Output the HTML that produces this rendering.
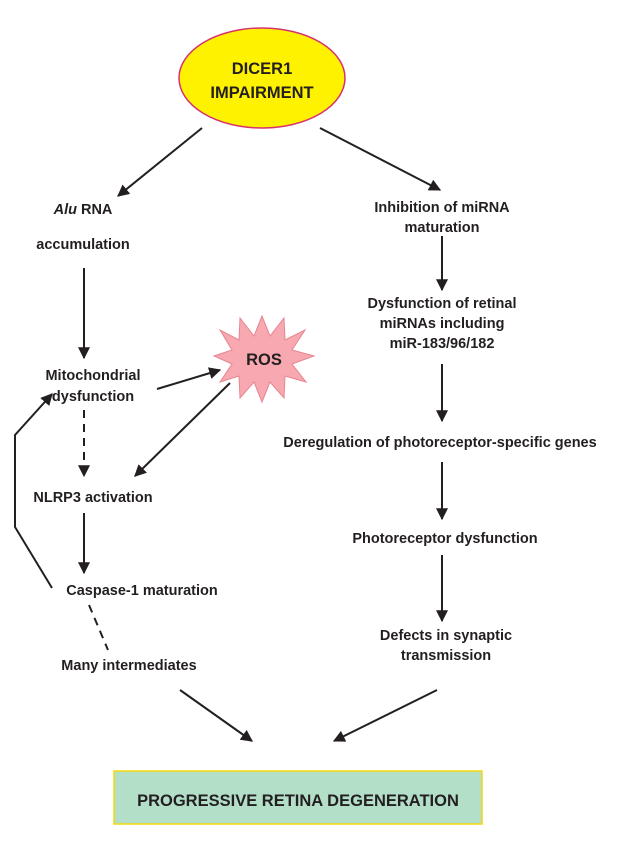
<!DOCTYPE html>
<html><head><meta charset="utf-8"><style>
body{margin:0;background:#fff;}
svg text{font-family:"Liberation Sans",Arial,sans-serif;font-weight:bold;font-size:14.5px;fill:#231f20;text-anchor:middle;}
</style></head><body>
<svg width="640" height="840" viewBox="0 0 640 840" xmlns="http://www.w3.org/2000/svg">
<defs>
<marker id="a" viewBox="0 0 10 10" refX="9" refY="5" markerWidth="6" markerHeight="6" orient="auto"><path d="M0,0 L10,5 L0,10 z" fill="#231f20"/></marker>
</defs>
<ellipse cx="262" cy="78" rx="83" ry="50" fill="#fff200" stroke="#d6336c" stroke-width="1.5"/>
<text x="262" y="74" style="font-size:16.5px">DICER1</text>
<text x="262" y="98" style="font-size:16.5px">IMPAIRMENT</text>
<g stroke="#231f20" stroke-width="2" fill="none">
<line x1="202" y1="128" x2="118" y2="196" marker-end="url(#a)"/>
<line x1="320" y1="128" x2="440" y2="190" marker-end="url(#a)"/>
<line x1="84" y1="268" x2="84" y2="358" marker-end="url(#a)"/>
<line x1="84" y1="410" x2="84" y2="476" stroke-dasharray="8,6" marker-end="url(#a)"/>
<line x1="157" y1="389" x2="220" y2="370" marker-end="url(#a)"/>
<line x1="230" y1="383" x2="135" y2="476" marker-end="url(#a)"/>
<line x1="84" y1="513" x2="84" y2="573" marker-end="url(#a)"/>
<polyline points="52,588 15,527 15,435 52,394" marker-end="url(#a)"/>
<line x1="89" y1="605" x2="108" y2="650" stroke-dasharray="8,6"/>
<line x1="442" y1="236" x2="442" y2="290" marker-end="url(#a)"/>
<line x1="442" y1="364" x2="442" y2="421" marker-end="url(#a)"/>
<line x1="442" y1="462" x2="442" y2="519" marker-end="url(#a)"/>
<line x1="442" y1="555" x2="442" y2="621" marker-end="url(#a)"/>
<line x1="180" y1="690" x2="252" y2="741" marker-end="url(#a)"/>
<line x1="437" y1="690" x2="334" y2="741" marker-end="url(#a)"/>
</g>
<polygon points="262,316 270,336 284,318 285,340 305,330 292,350 314,356 292,364 306,382 285,376 284,398 270,382 262,402 254,382 240,398 239,376 220,382 232,364 214,356 232,350 220,330 239,340 240,318 254,336" fill="#f7a8b0" stroke="#e8848f" stroke-width="1"/>
<text x="264" y="365" style="font-size:16.5px">ROS</text>
<text x="83" y="214"><tspan font-style="italic">Alu</tspan> RNA</text>
<text x="83" y="249">accumulation</text>
<text x="93" y="380">Mitochondrial</text>
<text x="93" y="401">dysfunction</text>
<text x="93" y="502">NLRP3 activation</text>
<text x="142" y="595">Caspase-1 maturation</text>
<text x="129" y="670">Many intermediates</text>
<text x="442" y="212">Inhibition of miRNA</text>
<text x="442" y="232">maturation</text>
<text x="442" y="308">Dysfunction of retinal</text>
<text x="442" y="328">miRNAs including</text>
<text x="442" y="348">miR-183/96/182</text>
<text x="440" y="447">Deregulation of photoreceptor-specific genes</text>
<text x="445" y="543">Photoreceptor dysfunction</text>
<text x="446" y="640">Defects in synaptic</text>
<text x="446" y="660">transmission</text>
<rect x="114" y="771" width="368" height="53" fill="#b3dfc9" stroke="#f5d90a" stroke-width="1.5"/>
<text x="298" y="806" style="font-size:16.5px">PROGRESSIVE RETINA DEGENERATION</text>
</svg>
</body></html>
